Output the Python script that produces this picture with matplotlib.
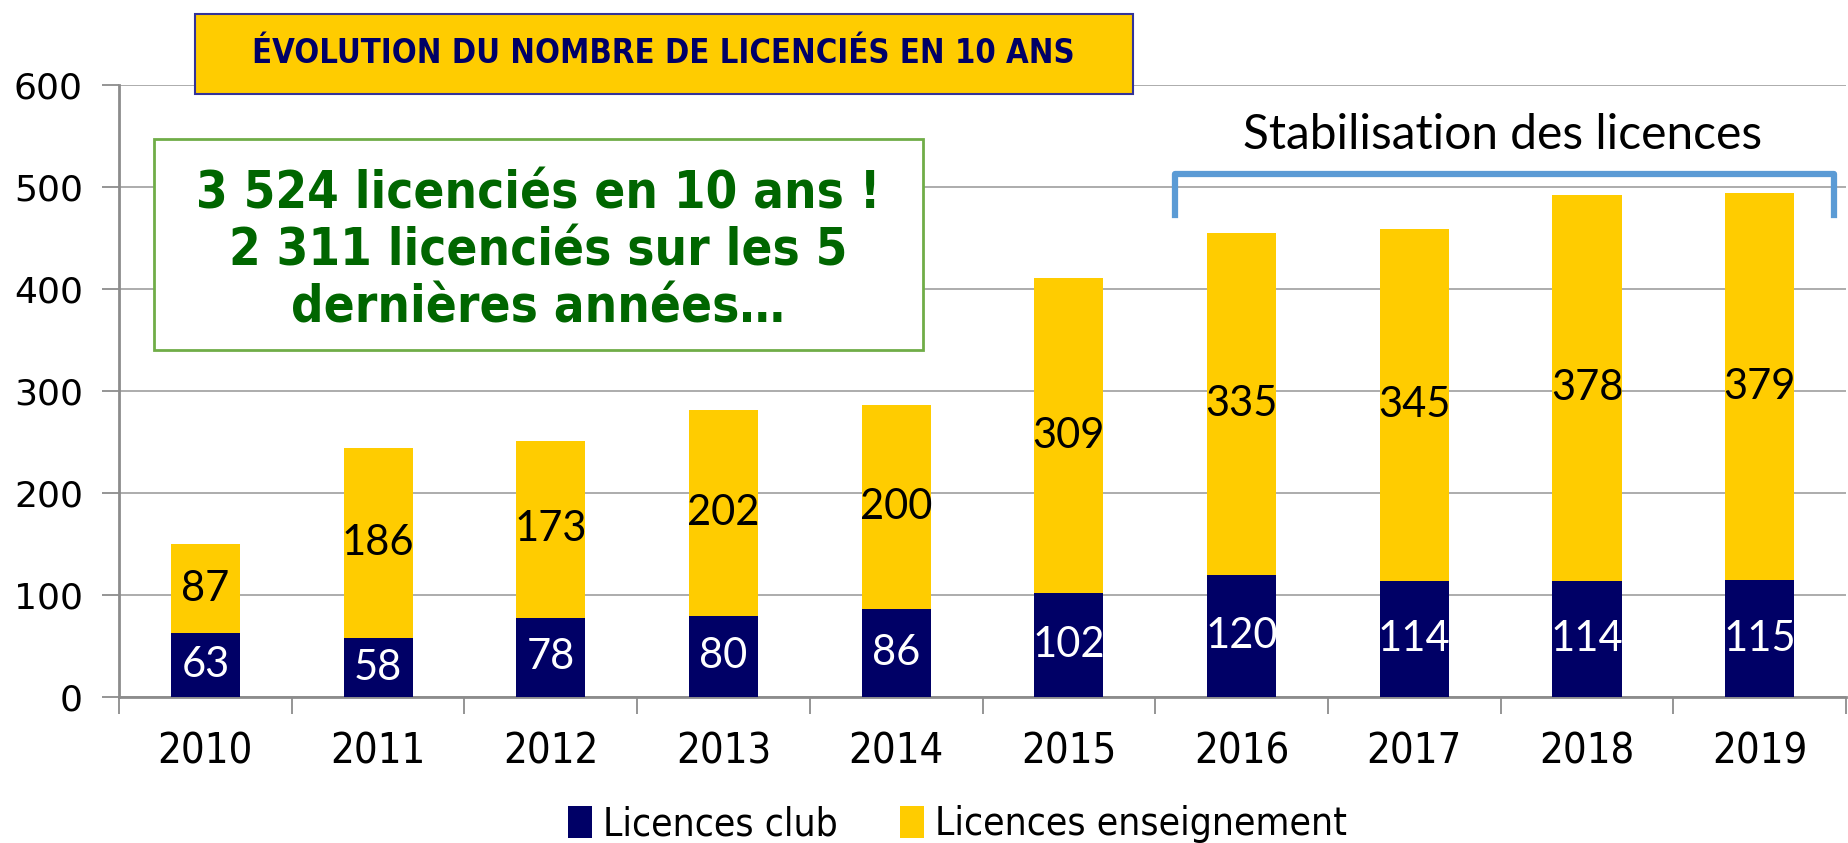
import matplotlib
matplotlib.use("Agg")
import matplotlib.pyplot as plt
from matplotlib.patches import Rectangle
import numpy as np

# data
years = ['2010', '2011', '2012', '2013', '2014', '2015', '2016', '2017', '2018', '2019']
club = [63, 58, 78, 80, 86, 102, 120, 114, 114, 115]
enseignement = [87, 186, 173, 202, 200, 309, 335, 345, 378, 379]

navy = '#000066'
yellow = '#FFCC00'
narrow = ['Liberation Sans Narrow', 'DejaVu Sans']
calib = ['Lato', 'DejaVu Sans']

fig = plt.figure(figsize=(18.49, 8.43), dpi=100)
ax = fig.add_axes([0.0644, 0.173, 0.934, 0.726])

x = np.arange(len(years))
b1 = ax.bar(x, club, width=0.4, color=navy, label='Licences club', zorder=3)
b2 = ax.bar(x, enseignement, width=0.4, bottom=club, color=yellow,
            label='Licences enseignement', zorder=3)

for i in range(len(years)):
    ax.text(x[i], club[i] / 2, str(club[i]), ha='center', va='center',
            color='white', fontsize=30, family=calib, zorder=4)
    ax.text(x[i], club[i] + enseignement[i] / 2, str(enseignement[i]),
            ha='center', va='center', color='black', fontsize=30,
            family=calib, zorder=4)

ax.set_xlim(-0.5, 9.5)
ax.set_ylim(0, 600)
ax.set_yticks(range(0, 601, 100))
ax.yaxis.grid(True, color='#A6A6A6', lw=1.3, zorder=0)
ax.set_xticks(x)
ax.set_xticklabels(years, family=narrow, fontsize=30, stretch='condensed')
ax.set_xticks(np.arange(-0.5, 10, 1), minor=True)
ax.tick_params(axis='x', which='major', length=0, pad=24)
ax.tick_params(axis='x', which='minor', length=12, color='#8C8C8C', width=1.3)
ax.tick_params(axis='y', length=12, color='#8C8C8C', width=1.3, labelsize=26, pad=14)
for s in ['top', 'right']:
    ax.spines[s].set_visible(False)
for s in ['left', 'bottom']:
    ax.spines[s].set_color('#8C8C8C')
    ax.spines[s].set_linewidth(2)

# bracket over the last years
bx0, bx1, by0, by1 = 5.615, 9.43, 473, 513
ax.plot([bx0, bx0, bx1, bx1], [by0, by1, by1, by0], color='#5B9BD5', lw=4.5,
        solid_joinstyle='round', clip_on=False, zorder=5)
ax.text(7.51, 551, 'Stabilisation des licences', ha='center', va='center',
        fontsize=34.5, family=calib, color='black')

# title box
fig.add_artist(Rectangle((0.1055, 0.8885), 0.5075, 0.0945, transform=fig.transFigure,
                         facecolor=yellow, edgecolor='#333399', lw=1.5, zorder=6))
fig.text(0.359, 0.936, 'ÉVOLUTION DU NOMBRE DE LICENCIÉS EN 10 ANS', ha='center',
         va='center', fontsize=23.5, weight='bold', color=navy, family=narrow,
         stretch='condensed', zorder=7)

# green box
fig.add_artist(Rectangle((0.0833, 0.585), 0.4157, 0.25, transform=fig.transFigure,
                         facecolor='white', edgecolor='#70AD47', lw=2, zorder=6))
fig.text(0.291, 0.702, '3 524 licenciés en 10 ans !\n2 311 licenciés sur les 5\ndernières années…',
         ha='center', va='center', fontsize=36.5, weight='bold', color='#006600',
         family=narrow, stretch='condensed', linespacing=1.18, zorder=7)

fig.legend(handles=[b1, b2], loc='center', bbox_to_anchor=(0.518, 0.022),
           ncol=2, frameon=False,
           prop={'family': narrow, 'size': 28, 'stretch': 'condensed'},
           handlelength=0.6, handleheight=0.9, handletextpad=0.3, columnspacing=1.6)

fig.savefig('out.png', dpi=100)
